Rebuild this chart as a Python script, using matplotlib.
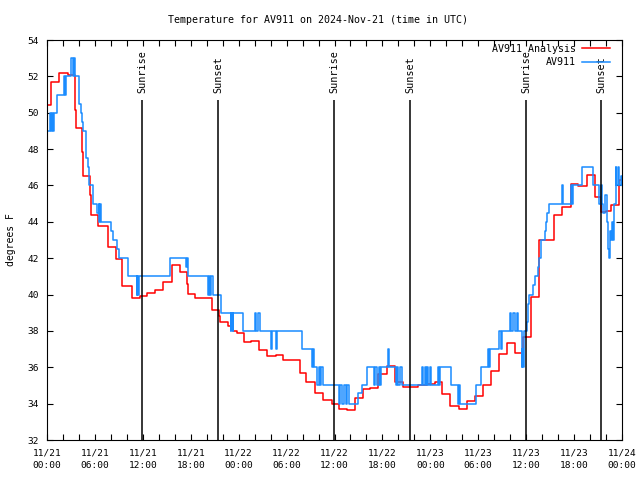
import matplotlib
matplotlib.use('Agg')
import matplotlib.pyplot as plt

# hours since 2024-11-21 00:00 UTC and temperature (F)
obs_hours = [0, 0.38, 0.5, 0.63, 0.75, 0.88, 1.29, 2.17, 2.25, 2.38, 2.97, 3.29, 3.38, 3.47,
             3.97, 4.22, 4.38, 4.47, 4.88, 5.1, 5.22, 5.32, 5.8, 6.3, 6.45, 6.51, 6.64, 6.76,
             8.05, 8.23, 8.8, 8.98, 10.14, 11.23, 11.33, 11.43, 11.56, 15.4, 17.37, 17.49, 17.69,
             20.2, 20.32, 20.45, 20.57, 20.75, 21.73, 22.98, 23.1, 23.23, 23.29, 24.5, 26.05,
             26.17, 26.42, 26.67, 28.05, 28.17, 28.68, 28.8, 31.89, 33.15, 33.25, 33.43, 33.85,
             34.0, 34.18, 34.31, 34.52, 36.6, 36.75, 36.94, 37.19, 37.38, 37.57, 37.78, 38.98,
             39.5, 40.03, 40.95, 41.13, 41.32, 41.57, 41.7, 41.82, 42.74, 42.86, 43.7, 43.86,
             44.01, 44.2, 44.42, 47.0, 47.12, 47.3, 47.42, 47.62, 47.75, 47.92, 48.08, 49.0,
             49.09, 49.21, 50.59, 51.5, 51.63, 51.72, 53.72, 54.35, 55.26, 55.35, 55.47, 56.64,
             56.79, 56.93, 57.98, 58.16, 58.35, 58.6, 58.79, 58.98, 59.44, 59.54, 59.64, 59.79,
             60.07, 60.27, 60.39, 60.89, 61.1, 61.52, 61.65, 61.82, 62.36, 62.48, 62.65, 62.9,
             64.45, 64.65, 65.58, 65.68, 65.83, 66.95, 68.41, 69.16, 69.31, 69.44, 69.62, 69.87,
             70.06, 70.25, 70.37, 70.5, 70.62, 70.75, 70.87, 71.0, 71.19, 71.31, 71.44, 71.63,
             71.82, 72]
obs_temp = [49, 50, 49, 50, 49, 50, 51, 52, 51, 52, 53, 52, 53, 52,
            50.5, 50, 49.5, 49, 47.5, 47, 46.5, 46, 45, 44.5, 45, 44, 45, 44,
            43.5, 43, 42.5, 42, 41, 40, 41, 40, 41, 42, 41.5, 42, 41,
            40, 41, 40, 41, 40, 39, 38, 39, 38, 39, 38, 39,
            38, 39, 38, 37, 38, 37, 38, 37, 36, 37, 36, 35,
            36, 35, 36, 35, 34, 35, 34, 35, 34, 35, 34, 34.6,
            35, 36, 35, 36, 35, 36, 35, 36, 37, 36, 35, 36,
            35, 36, 35, 36, 35, 36, 35, 36, 35, 36, 35, 36,
            35, 36, 35, 34, 35, 34, 35, 36, 37, 36, 37, 38,
            37, 38, 39, 38, 39, 38, 39, 38, 36, 37, 36, 38,
            38.5, 39.5, 40, 40.5, 41, 41.5, 42, 43, 43.5, 44, 44.5, 45,
            46, 45, 46, 45, 46, 47, 46, 45, 46, 45, 44.5, 45.5,
            44, 42.5, 42, 43.5, 43, 44, 43, 45, 47, 46, 47, 46,
            46.5, 46]

ana_hours = [0, 0.5, 1.54, 2.63, 3.51, 3.63, 4.42, 4.55, 5.38, 5.55, 6.42, 7.6, 8.6, 9.43,
             10.68, 11.65, 12.48, 13.52, 14.56, 15.61, 16.65, 17.49, 17.69, 18.53, 20.62, 21.54,
             21.67, 22.63, 23.25, 23.75, 24.67, 25.55, 26.58, 27.51, 28.68, 29.51, 31.68, 32.43,
             33.56, 34.6, 35.65, 36.6, 37.57, 38.57, 39.53, 40.45, 41.49, 42.54, 43.58, 44.62,
             46.49, 47.54, 48.59, 49.42, 50.46, 51.63, 52.55, 53.59, 54.56, 55.56, 56.6, 57.56,
             58.6, 59.64, 60.61, 61.65, 63.52, 64.45, 65.58, 66.53, 67.58, 68.62, 69.33, 70.0,
             70.62, 71.66, 72]
ana_temp = [50.45, 51.7, 52.2, 52.1, 50.15, 49.15, 47.85, 46.5, 45.45, 44.4, 43.75, 42.6, 41.95,
            40.45, 39.8, 39.9, 40.1, 40.25, 40.7, 41.6, 41.25, 40.6, 40.05, 39.8, 39.15, 38.8,
            38.5, 38.27, 38.0, 37.87, 37.4, 37.45, 36.95, 36.64, 36.7, 36.4, 35.67, 35.17,
            34.57, 34.2, 34.0, 33.7, 33.65, 34.3, 34.8, 34.85, 35.63, 36.09, 35.17, 34.93,
            35.0, 35.08, 35.17, 34.53, 33.87, 33.7, 34.15, 34.4, 35.0, 35.8, 36.73, 37.32,
            36.77, 37.65, 39.85, 43.0, 44.35, 44.8, 46.06, 45.97, 46.57, 45.38, 44.56, 44.6,
            44.93, 46.3, 46.3]

sun_hours = [11.9, 21.45, 35.95, 45.5, 60.0, 69.4]
sun_labels = ['Sunrise', 'Sunset', 'Sunrise', 'Sunset', 'Sunrise', 'Sunset']

tick_hours = list(range(0, 73, 6))
tick_labels = ['11/21\n00:00', '11/21\n06:00', '11/21\n12:00', '11/21\n18:00',
               '11/22\n00:00', '11/22\n06:00', '11/22\n12:00', '11/22\n18:00',
               '11/23\n00:00', '11/23\n06:00', '11/23\n12:00', '11/23\n18:00',
               '11/24\n00:00']

plt.rcParams['font.family'] = 'DejaVu Sans Mono'

fig = plt.figure(figsize=(6.4, 4.8), dpi=100)
ax = fig.add_axes([47 / 640, 40 / 480, 575 / 640, 400 / 480])

ax.step(ana_hours, ana_temp, where='post', color='#ff0000', lw=1.1, label='AV911 Analysis')
ax.step(obs_hours, obs_temp, where='post', color='#1a8cff', lw=1.1, label='AV911')

ax.vlines(sun_hours, 32, 50.7, color='black', lw=1.1)
for h, s in zip(sun_hours, sun_labels):
    ax.text(h, 51.1, s, rotation=90, ha='center', va='bottom', fontsize=7.3)

ax.set_xlim(0, 72)
ax.set_ylim(32, 54)
ax.set_yticks(range(32, 55, 2))
ax.set_xticks(tick_hours)
ax.set_xticklabels(tick_labels, linespacing=1.5)
ax.set_xticks(range(0, 73, 2), minor=True)
ax.tick_params(axis='both', which='both', direction='in', top=True, right=True,
               length=4, width=0.8, labelsize=6.8, pad=6)
ax.tick_params(axis='x', which='minor', length=4)
for sp in ax.spines.values():
    sp.set_linewidth(0.8)

ax.set_ylabel('degrees F', fontsize=7, labelpad=8)
fig.text(0.497, 1 - 20 / 480, 'Temperature for AV911 on 2024-Nov-21 (time in UTC)',
         ha='center', va='center', fontsize=7.2)

ax.legend(loc='upper right', bbox_to_anchor=(1 - 12 / 575, 1 - 4 / 400), frameon=False,
          markerfirst=False, fontsize=7.2, handlelength=2.8, handletextpad=0.6,
          labelspacing=0.35, borderpad=0, borderaxespad=0)

fig.savefig('out.png', dpi=100)
